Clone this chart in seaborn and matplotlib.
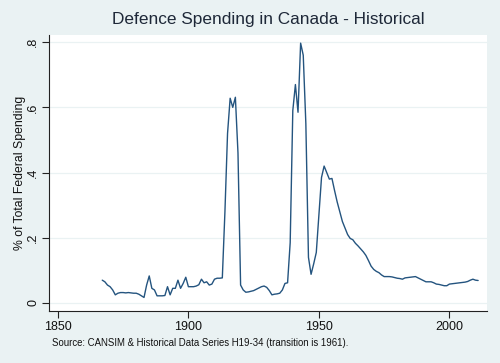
import matplotlib
matplotlib.use("Agg")
import matplotlib.pyplot as plt
import seaborn as sns
import pandas as pd

# share of total federal spending going to defence, 1867-2011
years = list(range(1867, 2012))
share = [
    0.070, 0.065, 0.055, 0.050, 0.040, 0.025, 0.030, 0.032, 0.032, 0.031,  # 1867-1876
    0.032, 0.031, 0.030, 0.030, 0.027, 0.022, 0.017, 0.055, 0.083, 0.045,  # 1877-1886
    0.040, 0.022, 0.022, 0.022, 0.023, 0.050, 0.025, 0.045, 0.045, 0.070,  # 1887-1896
    0.045, 0.060, 0.079, 0.050, 0.050, 0.050, 0.052, 0.056, 0.073, 0.062,  # 1897-1906
    0.065, 0.055, 0.058, 0.073, 0.076, 0.076, 0.077, 0.280, 0.520, 0.628,  # 1907-1916
    0.600, 0.631, 0.460, 0.055, 0.040, 0.033, 0.034, 0.036, 0.038, 0.042,  # 1917-1926
    0.046, 0.050, 0.052, 0.048, 0.038, 0.025, 0.027, 0.028, 0.030, 0.040,  # 1927-1936
    0.060, 0.062, 0.185, 0.590, 0.670, 0.585, 0.797, 0.760, 0.550, 0.140,  # 1937-1946
    0.088, 0.120, 0.155, 0.270, 0.385, 0.420, 0.400, 0.380, 0.382, 0.345,  # 1947-1956
    0.310, 0.280, 0.250, 0.230, 0.210, 0.198, 0.194, 0.183, 0.175, 0.166,  # 1957-1966
    0.157, 0.146, 0.130, 0.113, 0.103, 0.097, 0.093, 0.086, 0.081, 0.081,  # 1967-1976
    0.081, 0.080, 0.078, 0.076, 0.075, 0.073, 0.077, 0.078, 0.079, 0.080,  # 1977-1986
    0.081, 0.077, 0.073, 0.069, 0.065, 0.065, 0.065, 0.062, 0.058, 0.057,  # 1987-1996
    0.055, 0.053, 0.053, 0.058, 0.059, 0.060, 0.061, 0.062, 0.063, 0.064,  # 1997-2006
    0.066, 0.070, 0.073, 0.070, 0.069,                                     # 2007-2011
]

x_ticks = [1850, 1900, 1950, 2000]
y_ticks = [0, 0.2, 0.4, 0.6, 0.8]
y_tick_labels = ["0", ".2", ".4", ".6", ".8"]

df = pd.DataFrame({"year": years, "share": share})

bg = "#eaf2f3"
line_col = "#24547f"
text_col = "#1e2838"

sns.set_theme(style="white")
plt.rcParams["font.family"] = ["Liberation Sans", "DejaVu Sans"]

fig = plt.figure(figsize=(5.0, 3.63), dpi=100, facecolor=bg)
ax = fig.add_axes([0.098, 0.1433, 0.876, 0.7603])
ax.set_facecolor("white")

sns.lineplot(data=df, x="year", y="share", ax=ax, color=line_col, linewidth=1.0)

ax.set_xlim(1846.6, 2014.4)
ax.set_ylim(-0.0245, 0.822)
ax.set_xticks(x_ticks)
ax.set_xticklabels([str(t) for t in x_ticks])
ax.set_yticks(y_ticks)
ax.set_yticklabels(y_tick_labels, rotation=90, va="center")

ax.grid(axis="y", color=bg, linewidth=0.9)
ax.grid(axis="x", visible=False)
ax.set_axisbelow(True)

for side in ["top", "right"]:
    ax.spines[side].set_visible(False)
for side in ["left", "bottom"]:
    ax.spines[side].set_color("#222222")
    ax.spines[side].set_linewidth(0.8)

ax.tick_params(axis="both", direction="out", length=5, width=0.8, color="#222222",
               labelsize=9, labelcolor="#111111", pad=2, left=True, bottom=True)

ax.set_xlabel("")
ax.set_ylabel("% of Total Federal Spending", fontsize=8.8, color="#111111", labelpad=1)

fig.text(0.536, 0.945, "Defence Spending in Canada - Historical",
         ha="center", va="center", fontsize=12.4, color=text_col)
fig.text(0.104, 0.055, "Source: CANSIM & Historical Data Series H19-34 (transition is 1961).",
         ha="left", va="center", fontsize=6.9, color="#111111")

fig.savefig("out.png", dpi=100, facecolor=bg)
